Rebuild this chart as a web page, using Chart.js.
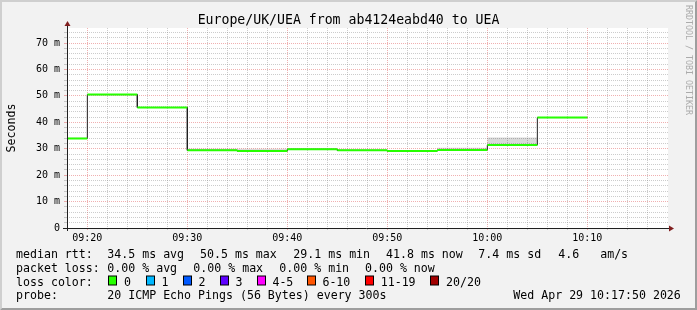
<!DOCTYPE html>
<html>
<head>
<meta charset="utf-8">
<title>Europe/UK/UEA</title>
<script src="https://cdn.jsdelivr.net/npm/chart.js@4.4.1/dist/chart.umd.min.js"></script>
<style>
  html, body { margin: 0; padding: 0; background: #f2f2f2; }
  canvas { display: block; }
</style>
</head>
<body>
<canvas id="grafico" width="697" height="310"></canvas>
<script>
// Datos (pasos de 5 minutos)
const stepStarts = ['09:15', '09:20', '09:25', '09:30', '09:35', '09:40', '09:45', '09:50', '09:55', '10:00', '10:05'];
const lastStepEnd = '10:10';
const medianRtt = [33.9, 50.5, 45.6, 29.4, 29.1, 29.8, 29.4, 29.1, 29.5, 31.4, 41.8];   // ms
const smokeLow  = [33.7, 50.3, 45.4, 29.2, 28.9, 29.6, 29.2, 28.9, 29.3, 31.2, 41.6];
const smokeHigh = [34.1, 50.7, 45.8, 30.0, 30.0, 30.0, 29.6, 29.3, 30.4, 34.3, 42.0];

const yTickLabels = ['0', '10 m', '20 m', '30 m', '40 m', '50 m', '60 m', '70 m'];
const xTickLabels = ['09:20', '09:30', '09:40', '09:50', '10:00', '10:10'];

const rttStats = ['34.5 ms avg', '50.5 ms max', '29.1 ms min', '41.8 ms now', '7.4 ms sd', '4.6   am/s'];
const lossStats = ['0.00 % avg', '0.00 % max', '0.00 % min', '0.00 % now'];
const lossLabels = ['0', '1', '2', '3', '4-5', '6-10', '11-19', '20/20'];
const lossColors = ['#26ff00', '#00b8ff', '#0059ff', '#5e00ff', '#ff00ff', '#ff5500', '#ff0000', '#a10000'];
const probeText = '20 ICMP Echo Pings (56 Bytes) every 300s';
const stampText = 'Wed Apr 29 10:17:50 2026';
const titleText = 'Europe/UK/UEA from ab4124eabd40 to UEA';

const toMin = t => { const [h, m] = t.split(':').map(Number); return h * 60 + m; };
const stepEnds = stepStarts.slice(1).concat(lastStepEnd);
const xMin = toMin('09:17') + 58 / 60;
const xMax = xMin + 60.1;
const yMax = 75.7;

// escalones: dos puntos por intervalo (y un hueco si se pide)
function steps(values, gaps) {
  const pts = [];
  values.forEach((v, i) => {
    pts.push({ x: toMin(stepStarts[i]), y: v }, { x: toMin(stepEnds[i]), y: v });
    if (gaps) pts.push({ x: toMin(stepEnds[i]), y: null });
  });
  return pts;
}

const mono = 'DejaVu Sans Mono';
const gridMinor = 'rgba(143,143,143,0.45)';
const gridMajor = 'rgba(222,79,79,0.45)';
const gridColor = c => (c.tick && c.tick.value % 10 === 0) ? gridMajor : gridMinor;

const rrdPlugin = {
  id: 'rrd',
  beforeDraw(chart) {
    const ctx = chart.ctx, W = chart.width, H = chart.height;
    const a = chart.chartArea;
    ctx.save();
    ctx.fillStyle = '#f2f2f2';
    ctx.fillRect(0, 0, W, H);
    // borde 3d
    ctx.fillStyle = '#cfcfcf';
    ctx.beginPath();
    ctx.moveTo(0, H); ctx.lineTo(2, H - 2); ctx.lineTo(2, 2); ctx.lineTo(W - 2, 2); ctx.lineTo(W, 0); ctx.lineTo(0, 0);
    ctx.closePath(); ctx.fill();
    ctx.fillStyle = '#9e9e9e';
    ctx.beginPath();
    ctx.moveTo(2, H - 2); ctx.lineTo(W - 2, H - 2); ctx.lineTo(W - 2, 2); ctx.lineTo(W, 0); ctx.lineTo(W, H); ctx.lineTo(0, H);
    ctx.closePath(); ctx.fill();
    ctx.fillStyle = '#ffffff';
    ctx.fillRect(a.left, a.top, a.right - a.left, a.bottom - a.top);
    ctx.restore();
  },
  afterDatasetsDraw(chart) {
    const ctx = chart.ctx, a = chart.chartArea;
    ctx.save();
    ctx.strokeStyle = '#1f1f1f';
    ctx.lineWidth = 1;
    ctx.beginPath();
    ctx.moveTo(a.left - 4, a.bottom + 0.5); ctx.lineTo(a.right + 2, a.bottom + 0.5);
    ctx.moveTo(a.left + 0.5, a.bottom + 3); ctx.lineTo(a.left + 0.5, a.top - 3);
    ctx.stroke();
    // flechas
    ctx.fillStyle = 'rgb(128,31,31)';
    ctx.beginPath();
    ctx.moveTo(a.right + 1, a.bottom + 0.5 - 3); ctx.lineTo(a.right + 6, a.bottom + 0.5); ctx.lineTo(a.right + 1, a.bottom + 0.5 + 3);
    ctx.closePath(); ctx.fill();
    ctx.beginPath();
    ctx.moveTo(a.left + 0.5 - 3, a.top - 2); ctx.lineTo(a.left + 0.5, a.top - 7); ctx.lineTo(a.left + 0.5 + 3, a.top - 2);
    ctx.closePath(); ctx.fill();
    ctx.restore();
  },
  afterDraw(chart) {
    const ctx = chart.ctx;
    ctx.save();
    ctx.fillStyle = '#000';
    ctx.textBaseline = 'alphabetic';
    // titulo
    ctx.font = '13.2px "' + mono + '"';
    ctx.textAlign = 'center';
    ctx.fillText(titleText, 348.5, 24);
    // eje y
    ctx.font = '11.6px "' + mono + '"';
    ctx.save();
    ctx.translate(15, 128);
    ctx.rotate(-Math.PI / 2);
    ctx.fillText('Seconds', 0, 0);
    ctx.restore();
    // marca de agua
    ctx.save();
    ctx.fillStyle = '#ababab';
    ctx.font = '8.3px "' + mono + '"';
    ctx.translate(685.5, 60);
    ctx.rotate(Math.PI / 2);
    ctx.fillText('RRDTOOL / TOBI OETIKER', 0, 0);
    ctx.restore();

    // leyenda
    ctx.textAlign = 'left';
    ctx.font = '11.6px "' + mono + '"';
    const rows = [257.7, 271.6, 285.5, 299.3];
    ctx.fillText('median rtt:', 16, rows[0]);
    [107.3, 200, 293.3, 386, 478.3, 558.3].forEach((x, i) => ctx.fillText(rttStats[i], x, rows[0]));
    ctx.fillText('packet loss:', 16, rows[1]);
    [107.3, 193.3, 279.3, 365].forEach((x, i) => ctx.fillText(lossStats[i], x, rows[1]));
    ctx.fillText('loss color:', 16, rows[2]);
    [108.3, 145.7, 182.7, 219.7, 256.7, 306.7, 365, 430.3].forEach((x, i) => {
      const bx = Math.round(x) + 0.5, by = rows[2] - 9.5;
      ctx.fillStyle = lossColors[i];
      ctx.fillRect(bx, by, 8, 9);
      ctx.strokeStyle = '#000';
      ctx.lineWidth = 1;
      ctx.strokeRect(bx, by, 8, 9);
      ctx.fillStyle = '#000';
      ctx.fillText(lossLabels[i], x + 15.7, rows[2]);
    });
    ctx.fillText('probe:', 16, rows[3]);
    ctx.fillText(probeText, 107.3, rows[3]);
    ctx.fillText(stampText, 513.3, rows[3]);
    ctx.restore();
  }
};

document.addEventListener('DOMContentLoaded', function () {
  const ctx = document.getElementById('grafico').getContext('2d');

  new Chart(ctx, {
    type: 'line',
    data: {
      datasets: [
        { // mediana por color de perdida (0)
          data: steps(medianRtt, true),
          borderColor: lossColors[0],
          borderWidth: 2,
          borderCapStyle: 'butt',
          pointRadius: 0,
          spanGaps: false,
          fill: false
        },
        { // linea de la mediana
          data: steps(medianRtt, false),
          borderColor: '#202020',
          borderWidth: 1,
          pointRadius: 0,
          fill: false
        },
        { // humo (arriba)
          data: steps(smokeHigh, false),
          borderColor: 'transparent',
          borderWidth: 0,
          pointRadius: 0,
          backgroundColor: 'rgba(0,0,0,0.15)',
          fill: '+1'
        },
        { // humo (abajo)
          data: steps(smokeLow, false),
          borderColor: 'transparent',
          borderWidth: 0,
          pointRadius: 0,
          fill: false
        }
      ]
    },
    options: {
      responsive: false,
      devicePixelRatio: 1,
      animation: false,
      events: [],
      layout: { padding: { top: 28, right: 29, bottom: 0, left: 0 } },
      plugins: {
        legend: { display: false },
        title: { display: false },
        tooltip: { enabled: false }
      },
      scales: {
        x: {
          type: 'linear',
          min: xMin,
          max: xMax,
          bounds: 'data',
          afterBuildTicks: s => {
            s.ticks = [];
            for (let v = Math.ceil(xMin / 2) * 2; v < xMax - 1; v += 2) s.ticks.push({ value: v });
          },
          afterFit: s => { s.height = 82; },
          grid: {
            color: gridColor,
            tickColor: gridColor,
            borderDash: [1, 1],
            tickLength: 2,
            lineWidth: 1
          },
          border: { display: false, dash: [1, 1] },
          ticks: {
            autoSkip: false,
            maxRotation: 0,
            padding: 2,
            color: '#000',
            font: { family: mono, size: 10 },
            callback: value => xTickLabels.find(t => toMin(t) === value) || ''
          }
        },
        y: {
          type: 'linear',
          min: 0,
          max: yMax,
          bounds: 'data',
          afterBuildTicks: s => {
            s.ticks = [];
            for (let v = 0; v < yMax; v += 2) s.ticks.push({ value: v });
          },
          afterFit: s => { s.width = 67; },
          grid: {
            color: gridColor,
            tickColor: gridColor,
            borderDash: [1, 1],
            tickLength: 3,
            lineWidth: 1
          },
          border: { display: false, dash: [1, 1] },
          ticks: {
            autoSkip: false,
            padding: 4,
            color: '#000',
            font: { family: mono, size: 10 },
            callback: value => value % 10 === 0 ? yTickLabels[value / 10] : ''
          }
        }
      }
    },
    plugins: [rrdPlugin]
  });
});
</script>
</body>
</html>
